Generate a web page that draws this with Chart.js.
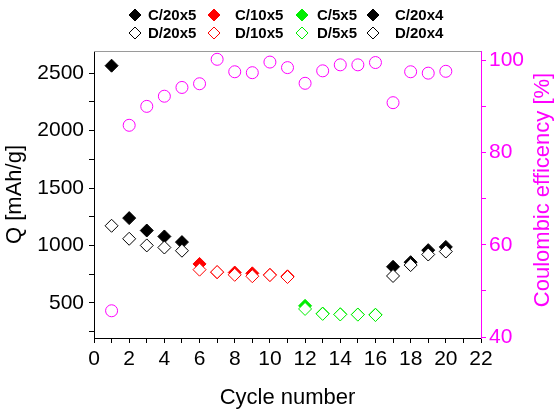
<!DOCTYPE html>
<html>
<head>
<meta charset="utf-8">
<script src="https://cdn.jsdelivr.net/npm/chart.js@4.4.1/dist/chart.umd.min.js"></script>
<style>
  body { margin: 0; background: #fff; }
  #wrap { width: 554px; height: 412px; }
</style>
</head>
<body>
<div id="wrap"><canvas id="cycleChart" width="554" height="412"></canvas></div>
<script>
/* DATA */
const cyc20x5 = [1, 2, 3, 4, 5];
const cyc10x5 = [6, 7, 8, 9, 10, 11];
const cyc5x5 = [12, 13, 14, 15, 16];
const cyc20x4 = [17, 18, 19, 20];

const charge20x5 = [2566, 1239, 1131, 1079, 1030];
const disch20x5 = [1172, 1059, 1001, 983, 955];
const charge10x5 = [840, 768, 765, 758, 745, 732];
const disch10x5 = [790, 769, 745, 733, 743, 726];
const charge5x5 = [475, 408, 402, 400, 398];
const disch5x5 = [448, 405, 400, 398, 395];
const charge20x4 = [815, 855, 960, 988];
const disch20x4 = [735, 830, 922, 948];

const ceCycles = [1, 2, 3, 4, 5, 6, 7, 8, 9, 10, 11, 12, 13, 14, 15, 16, 17, 18, 19, 20];
const ceValues = [45.7, 85.9, 90.0, 92.2, 94.1, 94.9, 100.2, 97.5, 97.3, 99.6,
                  98.4, 95.0, 97.7, 99.0, 99.0, 99.5, 90.8, 97.5, 97.2, 97.6];

const xTicks = [0, 1, 2, 3, 4, 5, 6, 7, 8, 9, 10, 11, 12, 13, 14, 15, 16, 17, 18, 19, 20, 21, 22];
const qTicks = [250, 500, 750, 1000, 1250, 1500, 1750, 2000, 2250, 2500];
const ceTicks = [40, 50, 60, 70, 80, 90, 100];

const FONT = "Arial, 'Liberation Sans', sans-serif";
const MAGENTA = "#ff00ff";

const pts = (xs, ys) => xs.map((x, i) => ({ x, y: ys[i] }));

function diamond(label, xs, ys, color, filled) {
  return {
    label,
    data: pts(xs, ys),
    yAxisID: "y",
    pointStyle: "rectRot",
    pointRadius: 6.5,
    pointHoverRadius: 6.5,
    borderWidth: 1,
    borderColor: color,
    backgroundColor: filled ? color : "#ffffff",
    order: filled ? 2 : 1
  };
}

const datasets = [
  diamond("C/20x5", cyc20x5, charge20x5, "#000000", true),
  diamond("C/10x5", cyc10x5, charge10x5, "#ff0000", true),
  diamond("C/5x5", cyc5x5, charge5x5, "#00ee00", true),
  diamond("C/20x4", cyc20x4, charge20x4, "#000000", true),
  diamond("D/20x5", cyc20x5, disch20x5, "#000000", false),
  diamond("D/10x5", cyc10x5, disch10x5, "#ff0000", false),
  diamond("D/5x5", cyc5x5, disch5x5, "#00ee00", false),
  diamond("D/20x4", cyc20x4, disch20x4, "#000000", false),
  {
    label: "CE",
    data: pts(ceCycles, ceValues),
    yAxisID: "y2",
    pointStyle: "circle",
    pointRadius: 6,
    pointHoverRadius: 6,
    borderWidth: 1,
    borderColor: MAGENTA,
    backgroundColor: "rgba(0,0,0,0)",
    order: 0
  }
];

/* LEGEND + EXTRA DECORATION */
const legendCols = [{ m: 135, t: 148 }, { m: 214, t: 235 }, { m: 302, t: 317 }, { m: 373, t: 395 }];
const legendRows = [15, 33];

const extras = {
  id: "extras",
  afterDraw(chart) {
    const ctx = chart.ctx;
    const area = chart.chartArea;
    ctx.save();

    // top frame line
    ctx.strokeStyle = "#9a9a9a";
    ctx.lineWidth = 1;
    ctx.beginPath();
    ctx.moveTo(area.left, area.top + 0.5);
    ctx.lineTo(area.right, area.top + 0.5);
    ctx.stroke();

    // legend grid, 4 columns x 2 rows
    ctx.font = "bold 15px " + FONT;
    ctx.textAlign = "left";
    ctx.textBaseline = "middle";
    chart.data.datasets.slice(0, 8).forEach((ds, i) => {
      const col = legendCols[i % 4];
      const y = legendRows[Math.floor(i / 4)];
      ctx.fillStyle = ds.backgroundColor;
      ctx.strokeStyle = ds.borderColor;
      ctx.lineWidth = 1;
      Chart.helpers.drawPoint(ctx, { pointStyle: "rectRot", radius: 6, borderWidth: 1, rotation: 0 }, col.m, y);
      ctx.fillStyle = "#000";
      ctx.fillText(ds.label, col.t, y + 1);
    });

    // right axis title, reading bottom-to-top
    ctx.translate(543, 190);
    ctx.rotate(-Math.PI / 2);
    ctx.font = "22px " + FONT;
    ctx.fillStyle = MAGENTA;
    ctx.textAlign = "center";
    ctx.textBaseline = "middle";
    ctx.fillText("Coulombic efficency [%]", 0, 0);
    ctx.restore();
  }
};

new Chart(document.getElementById("cycleChart"), {
  type: "scatter",
  data: { datasets },
  plugins: [extras],
  options: {
    responsive: false,
    animation: false,
    layout: { padding: { top: 51, left: 0, right: 0, bottom: 0 } },
    plugins: {
      legend: { display: false },
      tooltip: { enabled: false }
    },
    scales: {
      x: {
        type: "linear",
        min: 0,
        max: 22,
        afterBuildTicks: s => { s.ticks = xTicks.map(v => ({ value: v })); },
        afterFit: s => { s.height = 74; },
        ticks: {
          color: "#000",
          font: { family: FONT, size: 21 },
          padding: 4,
          maxRotation: 0,
          autoSkip: false,
          callback: v => (v % 2 === 0 ? v : "")
        },
        grid: { drawOnChartArea: false, color: "#000", tickLength: 5 },
        border: { color: "#000", width: 1 },
        title: {
          display: true,
          text: "Cycle number",
          color: "#000",
          font: { family: FONT, size: 22 },
          padding: { top: 0, bottom: 1 }
        }
      },
      y: {
        position: "left",
        min: 195,
        max: 2694,
        afterBuildTicks: s => { s.ticks = qTicks.map(v => ({ value: v })); },
        afterFit: s => { s.width = 94; },
        ticks: {
          color: "#000",
          font: { family: FONT, size: 21 },
          padding: 5,
          autoSkip: false,
          callback: v => (v % 500 === 0 ? v : "")
        },
        grid: { drawOnChartArea: false, color: "#000", tickLength: 5 },
        border: { color: "#000", width: 1 },
        title: {
          display: true,
          text: "Q [mAh/g]",
          color: "#000",
          font: { family: FONT, size: 22 },
          padding: { top: 2, bottom: 0 }
        }
      },
      y2: {
        position: "right",
        min: 39.8,
        max: 102,
        afterBuildTicks: s => { s.ticks = ceTicks.map(v => ({ value: v })); },
        afterFit: s => { s.width = 73; },
        ticks: {
          color: MAGENTA,
          font: { family: FONT, size: 21 },
          padding: 3,
          autoSkip: false,
          callback: v => (v % 20 === 0 ? v : "")
        },
        grid: { drawOnChartArea: false, color: MAGENTA, tickLength: 5 },
        border: { color: MAGENTA, width: 1 }
      }
    }
  }
});
</script>
</body>
</html>
